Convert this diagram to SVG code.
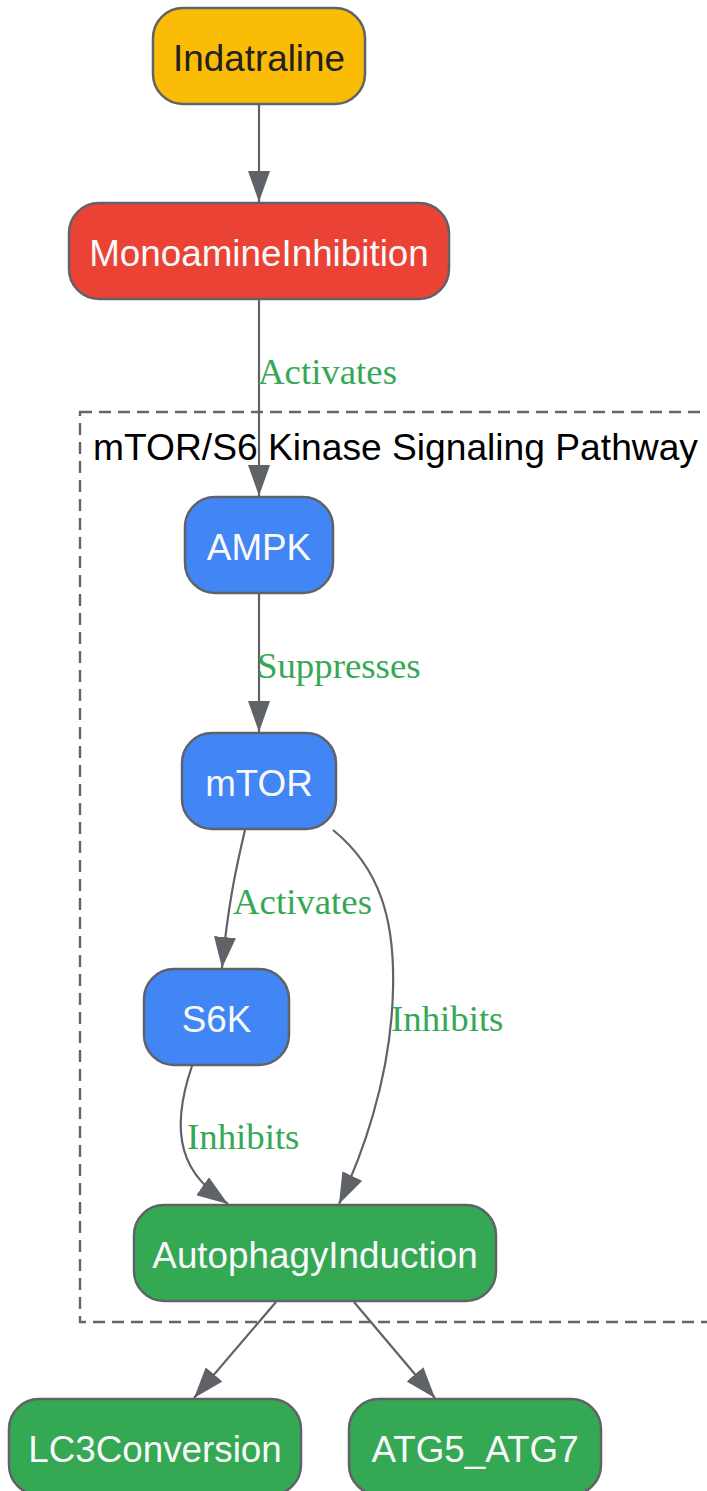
<svg xmlns="http://www.w3.org/2000/svg" width="707" height="1491" viewBox="0 0 707 1491">
<style>
.node rect{stroke:#5f6368;stroke-width:2.5}
.nt{font-family:"Liberation Sans",Arial,sans-serif;font-size:36.8px;text-anchor:middle;fill:#f8f9fa}
.el{font-family:"Liberation Serif","Times New Roman",serif;font-size:36.8px;fill:#34a853}
.edge{fill:none;stroke:#5f6368;stroke-width:2.2}
.cl{fill:none;stroke:#666;stroke-width:2.4;stroke-dasharray:12,7}
.clt{font-family:"Liberation Sans",Arial,sans-serif;font-size:37.2px;fill:#000}
</style>
<defs>
<marker id="ah" markerUnits="userSpaceOnUse" markerWidth="32" markerHeight="22" refX="31" refY="11" orient="auto">
<path d="M0,0 L31,11 L0,22 z" fill="#5f6368"/>
</marker>
</defs>
<rect width="707" height="1491" fill="#ffffff"/>
<g id="cluster">
<rect class="cl" x="80" y="412" width="650" height="910"/>
<text class="clt" x="93" y="460">mTOR/S6 Kinase Signaling Pathway</text>
</g>
<g id="connectors">
<path class="edge" d="M259,104 L259,202" marker-end="url(#ah)"/>
<path class="edge" d="M259,299 L259,496" marker-end="url(#ah)"/>
<path class="edge" d="M259,593 L259,732" marker-end="url(#ah)"/>
<path class="edge" d="M245,830 C236,868 228,905 222,968" marker-end="url(#ah)"/>
<path class="edge" d="M333,830 C380,868 395,920 393,990 C391,1080 360,1160 339,1204" marker-end="url(#ah)"/>
<path class="edge" d="M192,1066 C182,1095 177,1125 184,1150 C191,1175 208,1190 228,1204" marker-end="url(#ah)"/>
<path class="edge" d="M276,1302 L194,1398" marker-end="url(#ah)"/>
<path class="edge" d="M354,1302 L435,1398" marker-end="url(#ah)"/>
<text class="el" x="258" y="384">Activates</text>
<text class="el" x="257" y="678">Suppresses</text>
<text class="el" x="233" y="914">Activates</text>
<text class="el" x="391" y="1031">Inhibits</text>
<text class="el" x="187" y="1149">Inhibits</text>
</g>
<g id="Indatraline" class="node">
<rect x="153" y="8" width="212" height="96" rx="30" fill="#fbbc05"/>
<text class="nt" x="259" y="71" style="fill:#202124">Indatraline</text>
</g>
<g id="MonoamineInhibition" class="node">
<rect x="69" y="203" width="380" height="96" rx="30" fill="#ea4335"/>
<text class="nt" x="259" y="266">MonoamineInhibition</text>
</g>
<g id="AMPK" class="node">
<rect x="185" y="497" width="148" height="96" rx="30" fill="#4285f4"/>
<text class="nt" x="259" y="560">AMPK</text>
</g>
<g id="mTOR" class="node">
<rect x="182" y="733" width="154" height="96" rx="30" fill="#4285f4"/>
<text class="nt" x="259" y="796">mTOR</text>
</g>
<g id="S6K" class="node">
<rect x="144" y="969" width="145" height="96" rx="30" fill="#4285f4"/>
<text class="nt" x="216.5" y="1032">S6K</text>
</g>
<g id="AutophagyInduction" class="node">
<rect x="134" y="1205" width="362" height="96" rx="30" fill="#34a853"/>
<text class="nt" x="315" y="1268">AutophagyInduction</text>
</g>
<g id="LC3Conversion" class="node">
<rect x="9" y="1399" width="292" height="96" rx="30" fill="#34a853"/>
<text class="nt" x="155" y="1462">LC3Conversion</text>
</g>
<g id="ATG5_ATG7" class="node">
<rect x="349" y="1399" width="252" height="96" rx="30" fill="#34a853"/>
<text class="nt" x="475" y="1462">ATG5_ATG7</text>
</g>
</svg>
